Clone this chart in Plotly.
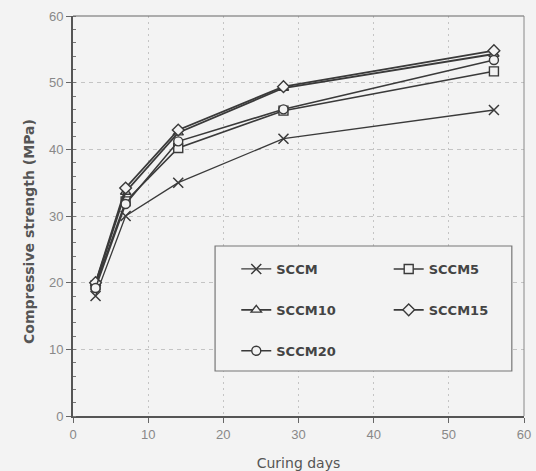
import plotly.graph_objects as go

days = [3, 7, 14, 28, 56]
sccm = [18.0, 30.0, 35.0, 41.6, 45.9]
sccm5 = [19.6, 32.2, 40.2, 45.8, 51.7]
sccm10 = [19.9, 33.6, 42.5, 49.2, 54.3]
sccm15 = [20.0, 34.2, 42.9, 49.4, 54.8]
sccm20 = [19.2, 31.8, 41.2, 46.0, 53.4]

names = ["SCCM", "SCCM5", "SCCM10", "SCCM15", "SCCM20"]
series = [sccm, sccm5, sccm10, sccm15, sccm20]
symbols = ["x-thin", "square", "triangle-up", "diamond", "circle"]
legends = ["legend", "legend2", "legend", "legend2", "legend"]
widths = [1.3, 1.6, 1.8, 1.8, 1.6]

BG = "#f3f3f3"
INK = "#3a3a3a"
LEGFONT = dict(size=13, color="#444", family="DejaVu Sans, Verdana, sans-serif", weight="bold")

fig = go.Figure()
for n, s, sym, lg, w in zip(names, series, symbols, legends, widths):
    if sym == "x-thin":
        marker = dict(symbol=sym, size=10, color=INK, line=dict(color=INK, width=1.5))
    else:
        marker = dict(symbol=sym, size=9, color=BG, line=dict(color=INK, width=1.4))
    fig.add_trace(go.Scatter(
        x=days, y=s, name=n, mode="lines+markers",
        line=dict(color=INK, width=w), marker=marker,
        legend=lg, legendgroup=n,
    ))

fig.update_layout(
    width=536, height=471,
    margin=dict(l=73, r=12, t=16, b=55, autoexpand=False),
    paper_bgcolor=BG, plot_bgcolor=BG,
    font=dict(family="Liberation Sans, Arial, sans-serif", color="#555"),
    showlegend=True,
    legend=dict(x=0.362, y=0.405, xanchor="left", yanchor="top",
                bgcolor="rgba(0,0,0,0)", tracegroupgap=21,
                font=LEGFONT, itemwidth=30),
    legend2=dict(x=0.70, y=0.405, xanchor="left", yanchor="top",
                 bgcolor="rgba(0,0,0,0)", tracegroupgap=21,
                 font=LEGFONT, itemwidth=30),
    shapes=[
        dict(type="rect", xref="paper", yref="paper", x0=0.315, x1=0.973, y0=0.1125, y1=0.425,
             line=dict(color="#777", width=1.2), fillcolor=BG, layer="above"),
        dict(type="line", xref="paper", yref="paper", x0=0, x1=1, y0=1, y1=1,
             line=dict(color="#666", width=1.2)),
        dict(type="line", xref="paper", yref="paper", x0=1, x1=1, y0=0, y1=1,
             line=dict(color="#888", width=1)),
    ],
    annotations=[
        dict(text="Compressive strength (MPa)", xref="paper", yref="paper",
             x=-0.0976, y=0.4625, xanchor="center", yanchor="middle",
             textangle=-90, showarrow=False,
             font=dict(size=14, color="#555", weight="bold",
                       family="DejaVu Sans, Verdana, sans-serif")),
    ],
)

fig.update_xaxes(
    range=[0, 60], dtick=10, tick0=0, automargin=False,
    showline=True, linecolor="#555", linewidth=2,
    ticks="outside", ticklen=5, tickcolor="#666",
    tickfont=dict(size=13, color="#888"),
    showgrid=True, gridcolor="#c4c4c4", griddash="2px,4px", gridwidth=1,
    zeroline=False,
    title=dict(text="Curing days",
               font=dict(size=14, color="#555", family="DejaVu Sans, Verdana, sans-serif"),
               standoff=20),
)
fig.update_yaxes(
    range=[0, 60], dtick=10, tick0=0, automargin=False,
    showline=True, linecolor="#555", linewidth=2,
    ticks="outside", ticklen=5, tickcolor="#666",
    tickfont=dict(size=13, color="#888"),
    minor=dict(dtick=2, ticks="inside", ticklen=3, tickcolor="#777", showgrid=False),
    showgrid=True, gridcolor="#c4c4c4", griddash="4px,4px", gridwidth=1,
    zeroline=False,
)

fig.write_html("out.html")
